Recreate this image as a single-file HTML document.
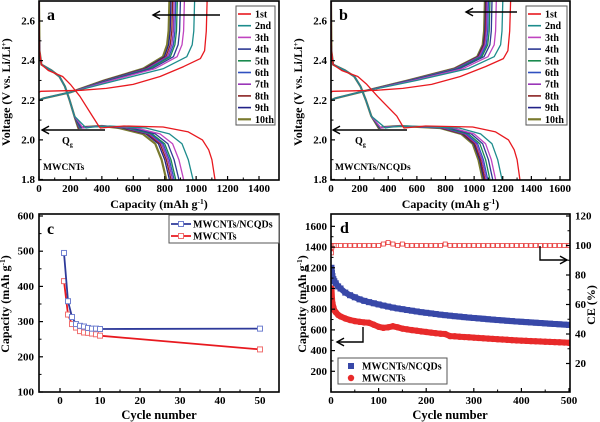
<!DOCTYPE html>
<html><head><meta charset="utf-8">
<style>
html,body{margin:0;padding:0;background:#fff;}
svg{display:block;font-family:"Liberation Serif",serif;font-weight:bold;}
</style></head>
<body>
<svg id="fig" width="600" height="422" viewBox="0 0 600 422" xmlns="http://www.w3.org/2000/svg">
<defs>
<clipPath id="clipA"><rect x="39" y="1" width="240" height="179"/></clipPath>
<clipPath id="clipB"><rect x="331" y="1" width="239" height="179"/></clipPath>
<clipPath id="clipC"><rect x="39" y="214" width="240" height="178"/></clipPath>
<clipPath id="clipD"><rect x="331" y="214" width="239" height="178"/></clipPath>
</defs>
</svg>
<script>
// ---- data ----
const cycleLabels = ['1st','2nd','3th','4th','5th','6th','7th','8th','9th','10th'];
const cycleColors = ['#e8191f','#1d8c8c','#c044c0','#2e3a94','#1a8a4e','#3050c0','#9a36b8','#8a2222','#222288','#7a7a2e'];
const dischargeEndA = [1120,980,920,890,870,860,850,840,830,810];
const dipA = [390,300,280,270,265,260,258,255,253,250];
const chargeEndA = [1070,990,925,900,880,870,860,850,840,830];
const dischargeEndB = [1320,1195,1150,1130,1110,1095,1085,1075,1068,1060];
const dipB = [510,380,350,345,340,340,338,336,335,333];
const chargeEndB = [1255,1200,1155,1125,1110,1100,1090,1085,1080,1075];

const cCycles = [1,2,3,4,5,6,7,8,9,10,50];
const cNCQD = [495,358,313,293,288,286,282,280,280,279,280];
const cMWCNT = [415,320,293,283,273,269,268,266,264,260,221];

const dCycles = [1,2,3,5,7,10,15,20,30,40,50,60,70,80,90,100,110,120,130,140,150,160,170,180,190,200,210,220,230,240,250,260,270,280,290,300,310,320,330,340,350,360,370,380,390,400,410,420,430,440,450,460,470,480,490,500];
const dNCQD = [1200,1150,1120,1090,1070,1050,1020,1000,960,935,915,895,880,868,857,846,835,825,815,807,800,792,785,778,771,765,759,753,747,742,737,732,728,723,719,715,711,707,703,699,695,692,688,685,681,678,675,672,669,666,663,660,657,654,651,648];
const dMWCNT = [1000,900,860,820,790,770,745,730,710,695,685,678,672,668,650,630,620,625,635,625,612,605,598,592,585,580,574,568,563,560,540,538,534,531,528,525,522,519,516,513,510,507,504,501,498,496,494,492,490,488,486,484,482,480,478,475];
const dCE = [95,99,100,100,100,100,100,100,100,100,100,100,100,100,100,100,101,102,101,100,101,100,100,100,100,100,100,100,100,101,100,100,100,100,100,100,100,100,100,100,100,100,100,100,100,100,100,100,100,100,100,100,100,100,100,100];

const xTicksA = [0,200,400,600,800,1000,1200,1400];
const xTicksB = [0,200,400,600,800,1000,1200,1400,1600];
const vTicks = [1.8,2.0,2.2,2.4,2.6];
const cXTicks = [0,10,20,30,40,50];
const cYTicks = [100,200,300,400,500,600];
const dXTicks = [0,100,200,300,400,500];
const dYTicks = [200,400,600,800,1000,1200,1400,1600];
const ceTicks = [20,40,60,80,100,120];

// ---- helpers ----
const NS='http://www.w3.org/2000/svg';
const svg=document.getElementById('fig');
function mk(tag,attrs,parent){const e=document.createElementNS(NS,tag);for(const k in attrs)e.setAttribute(k,attrs[k]);(parent||svg).appendChild(e);return e;}
function lin(d0,d1,r0,r1){return v=>r0+(v-d0)*(r1-r0)/(d1-d0);}
function txt(x,y,s,size,anchor,name,parent,rot){
  const t=mk('text',{x:x,y:y,'font-size':size,'text-anchor':anchor||'middle'},parent);
  if(rot) t.setAttribute('transform','rotate(-90 '+x+' '+y+')');
  t.textContent=s;
  
  
  return t;
}
function frame(x0,y0,x1,y1,name){
  const r=mk('rect',{x:x0,y:y0,width:x1-x0,height:y1-y0,fill:'none',stroke:'#000','stroke-width':1.6});
  
  
}
function xTicks(ticks,sx,yb,name,labY){
  ticks.forEach((t,i)=>{
    const x=sx(t);
    const l=mk('line',{x1:x,x2:x,y1:yb,y2:yb-4,stroke:'#000','stroke-width':1.2});
    
    
    if(i<ticks.length-1){const xm=sx((t+ticks[i+1])/2);
      const m=mk('line',{x1:xm,x2:xm,y1:yb,y2:yb-2.5,stroke:'#000','stroke-width':1});
      
      }
    txt(x,labY,String(t),11,'middle',name+'-label');
  });
}
function yTicks(ticks,sy,xl,name,fmt,labX,dir,anchor){
  ticks.forEach((t,i)=>{
    const y=sy(t);
    const l=mk('line',{x1:xl,x2:xl+4*dir,y1:y,y2:y,stroke:'#000','stroke-width':1.2});
    
    
    if(i<ticks.length-1){const ym=sy((t+ticks[i+1])/2);
      const m=mk('line',{x1:xl,x2:xl+2.5*dir,y1:ym,y2:ym,stroke:'#000','stroke-width':1});
      
      }
    txt(labX,y+3.5,fmt(t),11,anchor||'end',name+'-label');
  });
}
function poly(pts,sx,sy,color,w,parent,name){
  const p=mk('polyline',{points:pts.map(q=>sx(q[0]).toFixed(1)+','+sy(q[1]).toFixed(1)).join(' '),fill:'none',stroke:color,'stroke-width':w,'stroke-linejoin':'round'},parent);
  
  
  return p;
}
function arrow(x1,y1,x2,y2,name,pts){
  const g=mk('g',{});
  
  
  mk('polyline',{points:pts.map(p=>p.join(',')).join(' '),fill:'none',stroke:'#000','stroke-width':1.4},g);
  const a=Math.atan2(y2-y1,x2-x1),L=8;
  mk('polyline',{points:[(x2-L*Math.cos(a-0.5))+','+(y2-L*Math.sin(a-0.5)),x2+','+y2,(x2-L*Math.cos(a+0.5))+','+(y2-L*Math.sin(a+0.5))].join(' '),fill:'none',stroke:'#000','stroke-width':1.4},g);
}

// ---- voltage panels ----
function voltagePanel(P){
  const sx=lin(0,P.xRef,P.x0,P.xRefPx), sy=lin(1.8,2.6,179.5,21);
  const g=mk('g',{'clip-path':'url(#'+P.clip+')'});
  
  
  const s=P.s;
  for(let i=9;i>=0;i--){
    const e=P.dEnd[i], d=P.dip[i], c=P.cEnd[i];
    let dis;
    if(i===0){
      dis=[[0,2.7],[3,2.45],[15,2.38],[60*s,2.35],[150*s,2.32],[200*s,2.28],[260*s,2.22],[d-50,2.12],[d-10,2.07],[d,2.06],[d+150,2.07],[e-330,2.065],[e-170,2.04],[e-80,2.0],[e-40,1.95],[e-20,1.9],[e,1.8]];
    } else {
      dis=[[0,2.7],[3,2.45],[15,2.38],[80*s,2.35],[130*s,2.32],[165*s,2.27],[195*s,2.2],[225*s,2.12],[d,2.06],[d+40,2.065],[d+150,2.07],[e-300,2.06],[e-150,2.03],[e-70,1.98],[e-30,1.9],[e,1.8]];
    }
    let ch;
    if(i===0){
      ch=[[0,2.24],[10,2.245],[0.25*c,2.25],[0.4*c,2.26],[0.56*c,2.28],[0.72*c,2.32],[0.86*c,2.37],[0.96*c,2.41],[0.985*c,2.45],[0.995*c,2.55],[c,2.7]];
    } else {
      ch=[[0,2.2],[30,2.21],[200,2.24],[0.5*c,2.3],[0.8*c,2.36],[0.95*c,2.42],[c-15,2.48],[c-5,2.55],[c,2.7]];
    }
    const w=i===9?2.2:1.3;
    poly(dis,sx,sy,cycleColors[i],w,g,P.key+'-discharge-'+cycleLabels[i]);
    poly(ch,sx,sy,cycleColors[i],w,g,P.key+'-charge-'+cycleLabels[i]);
  }
  frame(P.x0,1,P.x1,180,P.key+'-plot-frame');
  xTicks(P.xt,sx,180,P.key+'-x-axis',192);
  yTicks(vTicks,sy,P.x0,P.key+'-y-axis',v=>v.toFixed(1),P.x0-4,1);
  txt((P.x0+P.x1)/2,208,'Capacity (mAh g',12,'middle',P.key+'-x-axis-title').innerHTML='Capacity (mAh g<tspan dy="-4" font-size="7.5">-1</tspan><tspan dy="4">)</tspan>';
  txt(P.x0-29,92,'Voltage (V vs. Li/Li',12,'middle',P.key+'-y-axis-title',null,true).innerHTML='Voltage (V vs. Li/Li<tspan dy="-4" font-size="7.5">+</tspan><tspan dy="4">)</tspan>';
  txt(P.x0+8,20,P.letter,16,'start',P.key+'-panel-letter');
  txt(P.x0+4,170,P.sample,9.5,'start',P.key+'-sample-label');
  const qg=txt(P.qx,144,'Q',10,'start',P.key+'-qg-label'); qg.innerHTML='Q<tspan dy="2.5" font-size="6">g</tspan>';
  // legend
  const lg=mk('g',{});
  
  
  mk('rect',{x:P.lx,y:6,width:P.lw,height:119,fill:'#fff',stroke:'#555','stroke-width':1},lg);
  cycleLabels.forEach((lab,i)=>{
    const y=14+i*11.7;
    const l=mk('line',{x1:P.lx+2,x2:P.lx+15,y1:y,y2:y,stroke:cycleColors[i],'stroke-width':i===9?2.2:1.6},lg);
    
    
    txt(P.lx+19,y+3.5,lab,10,'start',P.key+'-legend-entry-'+lab,lg);
  });
  arrow(P.a1[0],P.a1[1],P.a1[2],P.a1[1],P.key+'-charge-arrow',[[P.a1[0],P.a1[1]],[P.a1[2],P.a1[1]]]);
  arrow(P.a2[0],P.a2[1],P.a2[2],P.a2[1],P.key+'-qg-arrow',[[P.a2[0],P.a2[1]],[P.a2[2],P.a2[1]]]);
}
voltagePanel({key:'panel-a',letter:'a',sample:'MWCNTs',clip:'clipA',x0:39,x1:279,xRef:1400,xRefPx:259,s:1,
  dEnd:dischargeEndA,dip:dipA,cEnd:chargeEndA,xt:xTicksA,lx:236,lw:39,qx:62,a1:[220,15,153],a2:[105,130,42]});
voltagePanel({key:'panel-b',letter:'b',sample:'MWCNTs/NCQDs',clip:'clipB',x0:331,x1:570,xRef:1600,xRefPx:560,s:1.25,
  dEnd:dischargeEndB,dip:dipB,cEnd:chargeEndB,xt:xTicksB,lx:526,lw:41,qx:355,a1:[517,12,466],a2:[407,130,333]});

// ---- panel c ----
(function(){
  const sx=lin(0,50,60,260), sy=lin(100,600,392,216);
  const g=mk('g',{'clip-path':'url(#clipC)'});
  
  
  [[cMWCNT,'#e8191f','mwcnts'],[cNCQD,'#2e3a9a','mwcnts-ncqds']].forEach(([vals,col,nm])=>{
    poly(cCycles.map((c,i)=>[c,vals[i]]),sx,sy,col,1.8,g,'panel-c-line-'+nm);
    cCycles.forEach((c,i)=>{
      const r=mk('rect',{x:sx(c)-2.5,y:sy(vals[i])-2.5,width:5,height:5,fill:'#fff',stroke:col==='#e8191f'?'#f07070':'#7080d0','stroke-width':1},g);
      
      
    });
  });
  frame(39,214,279,392,'panel-c-plot-frame');
  xTicks(cXTicks,sx,392,'panel-c-x-axis',404);
  yTicks(cYTicks,sy,39,'panel-c-y-axis',v=>String(v),34,1);
  txt(159,419,'Cycle  number',12.5,'middle','panel-c-x-axis-title');
  txt(9,304,'',12,'middle','panel-c-y-axis-title',null,true).innerHTML='Capacity (mAh g<tspan dy="-4" font-size="7.5">-1</tspan><tspan dy="4">)</tspan>';
  txt(47,234,'c',16,'start','panel-c-letter');
  const lg=mk('g',{});
  
  
  mk('rect',{x:169,y:215,width:110,height:28,fill:'#fff',stroke:'#555','stroke-width':1},lg);
  [['MWCNTs/NCQDs','#2e3a9a','#7080d0',224],['MWCNTs','#e8191f','#f07070',236]].forEach(([lab,c,c2,y])=>{
    mk('line',{x1:171,x2:191,y1:y,y2:y,stroke:c,'stroke-width':1.8},lg);
    mk('rect',{x:178.5,y:y-2.5,width:5,height:5,fill:'#fff',stroke:c2},lg);
    txt(193,y+3.5,lab,10,'start','panel-c-legend-entry-'+lab.toLowerCase().replace('/','-'),lg);
  });
})();

// ---- panel d ----
(function(){
  const sx=lin(0,500,331,569), sy=lin(0,1700,392,216), sce=lin(0,120,393,216);
  const g=mk('g',{'clip-path':'url(#clipD)'});
  
  
  poly(dCycles.map((c,i)=>[c,dCE[i]]),sx,sce,'#f05050',4,g,'panel-d-ce-band');
  dCycles.forEach((c,i)=>{
    const r=mk('rect',{x:sx(c)-2,y:sce(dCE[i])-2,width:4,height:4,fill:'#fff',stroke:'#e84040','stroke-width':0.8},g);
    
    
  });
  poly(dCycles.map((c,i)=>[c,dNCQD[i]]),sx,sy,'#3848a8',6,g,'panel-d-ncqd-band');
  dCycles.forEach((c,i)=>{
    const r=mk('rect',{x:sx(c)-3,y:sy(dNCQD[i])-3,width:6,height:6,fill:'#3848a8'},g);
    
    
  });
  poly(dCycles.map((c,i)=>[c,dMWCNT[i]]),sx,sy,'#e82a2a',6,g,'panel-d-mwcnt-band');
  dCycles.forEach((c,i)=>{
    const r=mk('circle',{cx:sx(c),cy:sy(dMWCNT[i]),r:3.2,fill:'#e82a2a'},g);
    
    
  });
  frame(331,214,570,392,'panel-d-plot-frame');
  xTicks(dXTicks,sx,392,'panel-d-x-axis',404);
  yTicks(dYTicks,sy,331,'panel-d-y-axis',v=>String(v),327,1);
  yTicks(ceTicks,sce,570,'panel-d-ce-axis',v=>String(v),575,-1,'start');
  txt(450,419,'Cycle  number',12.5,'middle','panel-d-x-axis-title');
  txt(306,304,'',12,'middle','panel-d-y-axis-title',null,true).innerHTML='Capacity (mAh g<tspan dy="-4" font-size="7.5">-1</tspan><tspan dy="4">)</tspan>';
  txt(595,305,'CE (%)',12,'middle','panel-d-ce-axis-title',null,true);
  txt(340,233,'d',16,'start','panel-d-letter');
  arrow(363,342,337,342,'panel-d-left-axis-arrow',[[363,327],[363,342],[337,342]]);
  arrow(540,260,567,260,'panel-d-right-axis-arrow',[[540,246],[540,260],[567,260]]);
  const lg=mk('g',{});
  
  
  mk('rect',{x:338,y:358,width:109,height:26,fill:'#fff',stroke:'#555','stroke-width':1},lg);
  mk('rect',{x:348,y:363,width:6,height:6,fill:'#3848a8'},lg);
  txt(362,369.5,'MWCNTs/NCQDs',10,'start','panel-d-legend-entry-mwcnts-ncqds',lg);
  mk('circle',{cx:351,cy:378,r:3.2,fill:'#e82a2a'},lg);
  txt(362,381.5,'MWCNTs',10,'start','panel-d-legend-entry-mwcnts',lg);
})();
</script>
</body></html>
